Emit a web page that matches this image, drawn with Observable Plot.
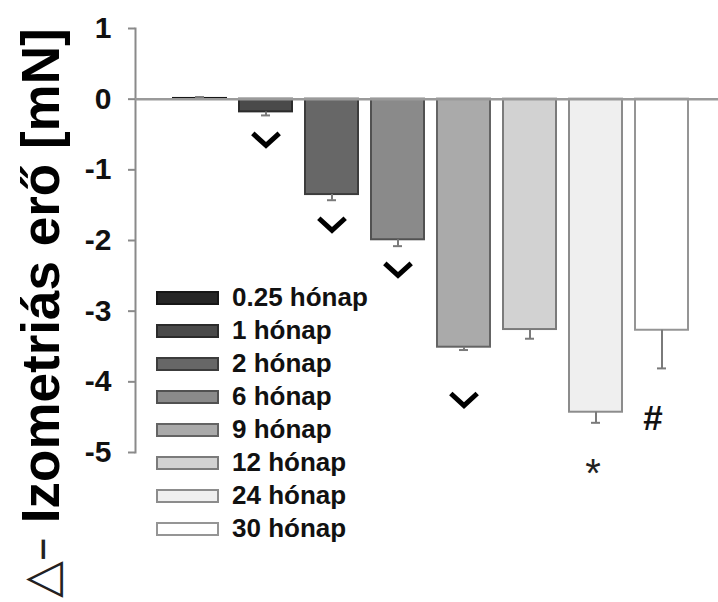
<!DOCTYPE html>
<html>
<head>
<meta charset="utf-8">
<script src="https://cdn.jsdelivr.net/npm/d3@7"></script>
<script src="https://cdn.jsdelivr.net/npm/@observablehq/plot@0.6"></script>
<style>
  html, body { margin: 0; padding: 0; background: #fff; }
  #wrap { position: relative; width: 718px; height: 602px; overflow: hidden; }
  #legend { position: absolute; left: 157px; top: 281px; }
  #legend > div { font: bold 26px "Liberation Sans", Arial, sans-serif !important; color: #111; margin: 0 !important; }
  #legend > div > div { height: 33px !important; padding: 0 !important; margin: 0 !important; display: flex !important; align-items: center !important; }
  #legend > div > div::before { content: none !important; }
  #legend svg { margin-right: 14px !important; overflow: visible !important; }
</style>
</head>
<body>
<div id="wrap"></div>
<script>
// ---- data ----
const months = ["0.25 hónap", "1 hónap", "2 hónap", "6 hónap", "9 hónap", "12 hónap", "24 hónap", "30 hónap"];
const means  = [0.01, -0.18, -1.35, -1.99, -3.51, -3.26, -4.43, -3.27];
const errors = [0.02, 0.05, 0.08, 0.09, 0.04, 0.13, 0.15, 0.54];
const fills  = ["#262626", "#4a4a4a", "#676767", "#8a8a8a", "#aaaaaa", "#d2d2d2", "#efefef", "#ffffff"];
const yTicks = [1, 0, -1, -2, -3, -4, -5];
const markerMonths  = ["1 hónap", "2 hónap", "6 hónap", "9 hónap", "24 hónap", "30 hónap"];
const markerSymbols = ["v", "v", "v", "v", "*", "#"];
const markerY       = [-0.57, -1.77, -2.41, -4.25, -5.24, -4.52];
const yLabel = "Izometriás erő [mN]";
const yLabelPrefix = "△–";

// ---- tables ----
const bars = months.map((m, i) => ({month: m, value: means[i], err: errors[i]}));
bars.forEach(d => { d.end = d.value + (d.value >= 0 ? d.err : -d.err); });
const markers = markerMonths.map((m, i) => ({month: m, sym: markerSymbols[i], y: markerY[i]}));
const colorOf = d3.scaleOrdinal(months, fills);
const strokeOf = m => d3.color(colorOf(m)).darker(1.5).formatHex();

// chevron symbol for the "v" significance marks
const chevron = {
  draw(context, size) {
    const r = Math.sqrt(size / Math.PI);
    context.moveTo(-1.65 * r, -0.75 * r);
    context.lineTo(0, 0.75 * r);
    context.lineTo(1.65 * r, -0.75 * r);
  }
};

const font = "'Liberation Sans', Arial, sans-serif";

const chart = Plot.plot({
  width: 718,
  height: 602,
  marginLeft: 135,
  marginRight: 0,
  marginTop: 28,
  marginBottom: 150,
  style: {fontFamily: font, background: "#fff", color: "#111"},
  x: {type: "band", domain: months, range: [156, 705], padding: 0.2, axis: null},
  y: {domain: [-5, 1], axis: null},
  color: {type: "ordinal", domain: months, range: fills},
  marks: [
    Plot.frame({anchor: "left", stroke: "#8a8a8a", strokeWidth: 2}),
    Plot.axisY({ticks: yTicks, tickFormat: d => String(d), tickSize: 7, tickPadding: 17,
                fontSize: 30, fontWeight: "bold", stroke: "#8a8a8a", strokeWidth: 2, label: null, fill: "#111"}),
    Plot.barY(bars, {x: "month", y: "value", fill: "month", stroke: d => strokeOf(d.month), strokeWidth: 2}),
    Plot.ruleY([0], {stroke: "#9a9a9a", strokeWidth: 2.5}),
    Plot.ruleX(bars, {x: "month", y1: "value", y2: "end", stroke: "#7a7a7a", strokeWidth: 2}),
    Plot.tickY(bars, {x: "month", y: "end", stroke: "#7a7a7a", strokeWidth: 2, insetLeft: 22, insetRight: 22}),
    Plot.dot(markers.filter(d => d.sym === "v"), {x: "month", y: "y", symbol: chevron, r: 8, fill: "none",
                stroke: "#000", strokeWidth: 5, strokeLinejoin: "miter", strokeLinecap: "butt"}),
    Plot.text(markers.filter(d => d.sym === "*"), {x: "month", y: "y", text: "sym", fontSize: 40, fill: "#222", lineAnchor: "middle", dy: 5, dx: -3}),
    Plot.text(markers.filter(d => d.sym === "#"), {x: "month", y: "y", text: "sym", fontSize: 35, fontWeight: "bold", fill: "#111", lineAnchor: "middle", dx: -9}),
    Plot.text([yLabel], {text: d => d, y: () => -6, frameAnchor: "left", rotate: -90, textAnchor: "start",
                         lineAnchor: "bottom", dx: -77, fontSize: 53, fontWeight: "bold", fill: "#000"}),
    Plot.text([yLabelPrefix], {text: d => d, y: () => -6, frameAnchor: "left", rotate: -90, textAnchor: "end",
                         lineAnchor: "bottom", dx: -79, dy: 14, fontSize: 48, fontFamily: "DejaVu Sans", fill: "#222"})
  ]
});

const wrap = document.getElementById("wrap");
wrap.appendChild(chart);

// legend
const legend = Plot.legend({
  color: {type: "ordinal", domain: months, range: fills},
  legend: "swatches", columns: 1, swatchWidth: 61, swatchHeight: 12
});
const ldiv = document.createElement("div");
ldiv.id = "legend";
ldiv.appendChild(legend);
wrap.appendChild(ldiv);
ldiv.querySelectorAll("svg").forEach(s => {
  const f = s.getAttribute("fill");
  const r = s.querySelector("rect");
  if (r && f) { r.setAttribute("stroke", d3.color(f).darker(1.5).formatHex()); r.setAttribute("stroke-width", 2); }
});
</script>
</body>
</html>
